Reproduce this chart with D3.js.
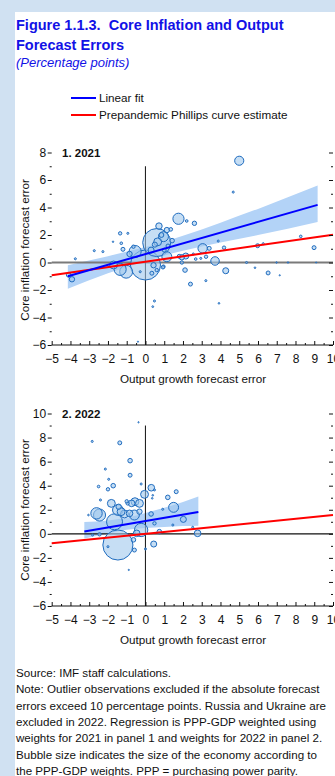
<!DOCTYPE html>
<html>
<head>
<meta charset="utf-8">
<script src="https://cdn.jsdelivr.net/npm/d3@7"></script>
<style>
  html, body { margin: 0; padding: 0; background: #d0e1f2; }
  svg { display: block; font-family: "Liberation Sans", Arial, Helvetica, sans-serif; }
</style>
</head>
<body>
<svg id="chart" width="335" height="776"></svg>
<script>
// ---- Axis ticks ----
const xTickValues = [-5, -4, -3, -2, -1, 0, 1, 2, 3, 4, 5, 6, 7, 8, 9, 10];
const xMinorTicks = [-4.5, -3.5, -2.5, -1.5, -0.5, 0.5, 1.5, 2.5, 3.5, 4.5, 5.5, 6.5, 7.5, 8.5, 9.5];
const yTicks2021 = [-6, -4, -2, 0, 2, 4, 6, 8];
const yMinor2021 = [-5, -3, -1, 1, 3, 5, 7];
const yTicks2022 = [-6, -4, -2, 0, 2, 4, 6, 8, 10];
const yMinor2022 = [-5, -3, -1, 1, 3, 5, 7, 9];

// ---- Panel 1: 2021 (output growth error, core inflation error, PPP-GDP weight) ----
const outputErr2021 = [5.0, 4.68, 1.76, 2.2, 2.61, 1.35, 0.72, 0.6, 0.0, 0.96, 1.42, 1.14, 0.65, 0.5, 0.85,
  -1.35, -0.94, -1.73, -1.29, -1.2, -0.64, -0.55, -0.85, -2.73, -2.27, -3.74, -4.1, -3.92, -1.35, -1.7,
  -1.03, -0.28, 0.43, 0.6, 0.34, 0.96, 3.88, 3.05, 3.4, 4.19, 5.98, 6.28, 8.28, 8.99, 1.14, 1.94, 2.15,
  2.68, 2.55, 2.95, 3.23, 3.71, 4.28, 2.11, 1.94, 0.93, 5.39, 5.84, 6.54, 6.99, 7.16, 7.6, 9.1, 2.4,
  3.22, 0.48, 0.39, 3.92, -0.4, 1.8, 1.2, 0.3, 1.0];
const coreInflErr2021 = [7.4, 5.12, 3.18, 3.02, 2.85, 2.41, 2.65, 1.45, -0.18, 1.88, 1.59, 2.36, 1.5, 1.3, 2.0,
  2.12, 2.12, 1.51, 1.4, 0.96, 1.15, 0.8, 0.62, 0.86, 0.79, 0.27, -0.9, -1.22, -0.5, -0.18,
  -0.67, -0.67, -0.2, -0.55, -0.78, -0.3, 1.56, 1.03, 1.03, 1.08, 1.22, 1.37, 1.9, 1.08, 0.42, 0.38, 0.47,
  0.25, 0.62, 0.3, 0.42, 0.11, -0.6, -0.55, 0.0, -0.35, 0.0, -0.38, -0.76, 0.0, -0.93, 0.0, 0.0, -1.57,
  -1.32, -2.8, -3.21, -2.97, -5.76, 0.45, 1.2, 0.9, 0.9];
const weight2021 = [1.6, 0.08, 2.4, 0.13, 0.37, 0.25, 0.8, 15.1, 17.4, 1.9, 0.4, 0.55, 1.2, 0.5, 0.45,
  0.22, 0.08, 0.04, 0.13, 0.3, 0.22, 2.8, 0.55, 0.08, 0.08, 0.08, 0.4, 0.55, 2.8, 1.2,
  3.2, 0.08, 0.55, 0.22, 0.3, 0.22, 0.08, 1.7, 0.3, 0.22, 0.3, 0.08, 0.13, 0.3, 1.9, 0.55, 0.7,
  0.13, 0.08, 0.08, 0.22, 1.4, 0.7, 0.4, 0.22, 0.22, 0.08, 0.05, 0.3, 0.04, 0.02, 0.04, 0.02, 0.3,
  0.08, 0.08, 0.06, 0.05, 0.02, 0.3, 0.3, 0.7, 0.3];

const fitX2021 = [-4.14, 9.18];
const fitY2021 = [-1.0, 4.19];
const bandX2021 = [-4.14, -2, 0, 1, 2, 4, 6, 9.18];
const bandLo2021 = [-1.9, -0.79, 0.11, 0.5, 0.85, 1.46, 2.0, 2.95];
const bandHi2021 = [-0.2, 0.46, 1.12, 1.51, 1.95, 2.9, 3.9, 5.6];
const phillipsX2021 = [-5, 10];
const phillipsY2021 = [-0.92, 2.02];

// ---- Panel 2: 2022 ----
const outputErr2022 = [-0.37, -2.84, -1.37, -0.82, -2.14, -0.82, -1.96, -2.5, -1.72, -2.0, -0.23, 0.31, -0.05,
  0.48, 1.19, 1.64, 0.36, -2.4, -1.82, -1.43, -0.95, -0.56, -0.74, -2.61, -1.47, -1.12, -0.32, 1.5, 2.02,
  -3.04, -1.47, -2.45, -1.65, -0.59, -0.32, -2.82, -2.0, -0.59, 0.0, 0.44, 0.3, 0.48, 0.74, -0.23, -0.47,
  -0.64, 2.52, 2.78, 1.46, -0.89, -2.45, 0.92, -1.0, 0.39, -0.85, -1.3];
const coreInflErr2022 = [9.27, 7.68, 7.56, 6.08, 5.38, 4.87, 4.53, 3.93, 4.0, 3.7, 4.14, 3.83, 3.28,
  3.65, 3.03, 3.5, 2.95, 2.81, 2.53, 2.25, 2.53, 2.67, 2.53, 1.7, 1.98, 1.65, 1.84, 2.2, 1.2,
  1.56, -0.93, 1.56, 1.0, 1.56, 2.53, -0.1, -1.07, -1.35, -1.26, -0.85, 1.65, 0.87, 0.18, 0.32, 0.04,
  -0.5, 0.54, 0.04, 0.73, -3.0, -0.04, 2.04, 2.7, 3.2, 1.7, 1.84];
const weight2022 = [0.03, 0.08, 0.3, 0.4, 0.08, 0.3, 0.08, 0.13, 0.4, 0.22, 0.08, 0.85, 1.2,
  0.08, 0.4, 0.3, 0.05, 0.08, 1.2, 0.55, 0.22, 1.2, 0.85, 2.5, 2.2, 1.2, 0.55, 1.9, 0.7,
  0.05, 17.4, 2.8, 4.9, 1.9, 1.2, 0.08, 0.08, 0.3, 0.08, 0.7, 0.4, 0.22, 0.4, 3.4, 0.85,
  0.4, 0.08, 0.85, 0.08, 0.03, 0.22, 0.08, 0.22, 0.05, 0.85, 1.2];

const fitX2022 = [-3.26, 2.82];
const fitY2022 = [0.2, 1.82];
const bandX2022 = [-3.26, -2, -1, 0, 1, 2, 2.82];
const bandLo2022 = [-0.38, 0.01, 0.33, 0.48, 0.57, 0.64, 0.68];
const bandHi2022 = [0.98, 1.11, 1.33, 1.72, 2.17, 2.64, 3.1];
const phillipsX2022 = [-5, 10];
const phillipsY2022 = [-0.79, 1.56];

// ---- Text ----
const titleLines = ["Figure 1.1.3.  Core Inflation and Output", "Forecast Errors"];
const subtitle = "(Percentage points)";
const legendLabels = ["Linear fit", "Prepandemic Phillips curve estimate"];
const panelTitles = ["1. 2021", "2. 2022"];
const xAxisTitle = "Output growth forecast error";
const yAxisTitle = "Core inflation forecast error";
const footnotes = [
  "Source: IMF staff calculations.",
  "Note: Outlier observations excluded if the absolute forecast",
  "errors exceed 10 percentage points. Russia and Ukraine are",
  "excluded in 2022. Regression is PPP-GDP weighted using",
  "weights for 2021 in panel 1 and weights for 2022 in panel 2.",
  "Bubble size indicates the size of the economy according to",
  "the PPP-GDP weights. PPP = purchasing power parity."
];

// ---- Drawing ----
const svg = d3.select("#chart");
const W = 335, H = 776;
const titleBlue = "#1212e6";
const fitBlue = "#0000ff";
const phillipsRed = "#ff0000";
const bandFill = "#b3d3f7";
const bubbleFill = "rgba(160, 200, 236, 0.6)";
const bubbleStroke = "#1f6cbf";

svg.append("rect").attr("x", 15).attr("y", 12).attr("width", W - 15).attr("height", H - 12).attr("fill", "#ffffff");

// Title block
svg.selectAll("text.title").data(titleLines).join("text")
  .attr("class", "title")
  .attr("x", 16).attr("y", (d, i) => 30 + i * 19.5)
  .attr("fill", titleBlue).attr("font-size", 14.5).attr("font-weight", "bold")
  .attr("xml:space", "preserve")
  .text(d => d);
svg.append("text").attr("x", 16).attr("y", 67)
  .attr("fill", titleBlue).attr("font-size", 13).attr("font-style", "italic")
  .text(subtitle);

// Legend
const legendColors = [fitBlue, phillipsRed];
const legend = svg.append("g");
legendLabels.forEach((lab, i) => {
  const ly = 98 + i * 17;
  legend.append("line").attr("x1", 71).attr("x2", 96).attr("y1", ly).attr("y2", ly)
    .attr("stroke", legendColors[i]).attr("stroke-width", 2);
  legend.append("text").attr("x", 99).attr("y", ly + 4.2).attr("font-size", 11.7).attr("fill", "#111")
    .text(lab);
});

const x = d3.scaleLinear().domain([-5, 10]).range([51.7, 333]);
const r = d3.scaleSqrt().domain([0, 18]).range([0, 15.3]);

function drawPanel(cfg) {
  const y = d3.scaleLinear().domain(cfg.yDomain).range(cfg.yRange);
  const g = svg.append("g");

  // confidence band
  const band = cfg.bandX.map((bx, i) => ({ x: bx, lo: cfg.bandLo[i], hi: cfg.bandHi[i] }));
  g.append("path").datum(band)
    .attr("fill", bandFill)
    .attr("d", d3.area().x(d => x(d.x)).y0(d => y(d.lo)).y1(d => y(d.hi)).curve(d3.curveMonotoneX));

  // zero lines
  g.append("line").attr("x1", x(-5)).attr("x2", x(10)).attr("y1", y(0)).attr("y2", y(0))
    .attr("stroke", cfg.zeroColor).attr("stroke-width", cfg.zeroWidth);
  g.append("line").attr("x1", x(0)).attr("x2", x(0)).attr("y1", y(cfg.yDomain[0])).attr("y2", y(cfg.vTop))
    .attr("stroke", "#222").attr("stroke-width", 1.1);

  // bubbles, largest first so small ones stay visible
  const pts = cfg.xs.map((v, i) => ({ x: v, y: cfg.ys[i], w: cfg.ws[i] }))
    .sort((a, b) => b.w - a.w);
  g.selectAll("circle.bubble").data(pts).join("circle")
    .attr("class", "bubble")
    .attr("cx", d => x(d.x)).attr("cy", d => y(d.y))
    .attr("r", d => Math.max(0.6, r(d.w)))
    .attr("fill", bubbleFill).attr("stroke", bubbleStroke).attr("stroke-width", 1);

  // fitted lines
  const line = d3.line().x(d => x(d[0])).y(d => y(d[1]));
  g.append("path").datum(cfg.phX.map((v, i) => [v, cfg.phY[i]]))
    .attr("d", line).attr("fill", "none").attr("stroke", phillipsRed).attr("stroke-width", 2);
  g.append("path").datum(cfg.fitX.map((v, i) => [v, cfg.fitY[i]]))
    .attr("d", line).attr("fill", "none").attr("stroke", fitBlue).attr("stroke-width", 2);

  // left axis
  const left = g.append("g").attr("transform", `translate(${x(-5)},0)`)
    .call(d3.axisLeft(y).tickValues(cfg.yTicks).tickSize(4).tickPadding(1.5));
  left.select(".domain").remove();
  left.selectAll("text").attr("font-size", 12).attr("font-family", null).attr("fill", "#111");
  left.selectAll("line").attr("stroke", "#111");
  const leftMinor = g.append("g").attr("transform", `translate(${x(-5)},0)`)
    .call(d3.axisLeft(y).tickValues(cfg.yMinor).tickSize(2).tickFormat(""));
  leftMinor.select(".domain").remove();
  leftMinor.selectAll("line").attr("stroke", "#111");

  // right axis (ticks only)
  const right = g.append("g").attr("transform", `translate(${x(10)},0)`)
    .call(d3.axisRight(y).tickValues(cfg.yTicks).tickSize(-4).tickFormat(""));
  right.select(".domain").remove();
  right.selectAll("line").attr("stroke", "#111");
  const rightMinor = g.append("g").attr("transform", `translate(${x(10)},0)`)
    .call(d3.axisRight(y).tickValues(cfg.yMinor).tickSize(-2).tickFormat(""));
  rightMinor.select(".domain").remove();
  rightMinor.selectAll("line").attr("stroke", "#111");

  // bottom axis
  const yb = y(cfg.yDomain[0]);
  const bottom = g.append("g").attr("transform", `translate(0,${yb})`)
    .call(d3.axisBottom(x).tickValues(xTickValues).tickSize(-4).tickPadding(9.5));
  bottom.select(".domain").remove();
  bottom.selectAll("text").attr("font-size", 12).attr("font-family", null).attr("fill", "#111");
  bottom.selectAll("line").attr("stroke", "#111");
  const bottomMinor = g.append("g").attr("transform", `translate(0,${yb})`)
    .call(d3.axisBottom(x).tickValues(xMinorTicks).tickSize(-2).tickFormat(""));
  bottomMinor.select(".domain").remove();
  bottomMinor.selectAll("line").attr("stroke", "#111");
  g.append("line").attr("x1", x(-5)).attr("x2", x(10)).attr("y1", yb).attr("y2", yb)
    .attr("stroke", "#111").attr("stroke-width", 1.2);

  // panel title and axis titles
  g.append("text").attr("x", 62).attr("y", y(cfg.yDomain[1]) + 4.2)
    .attr("font-size", 11.5).attr("font-weight", "bold").attr("fill", "#111").text(cfg.title);
  g.append("text").attr("x", 193).attr("y", yb + 37.5).attr("text-anchor", "middle")
    .attr("font-size", 11.7).attr("fill", "#111").text(xAxisTitle);
  g.append("text").attr("transform", `translate(29,${cfg.yTitleY}) rotate(-90)`)
    .attr("text-anchor", "middle").attr("font-size", 11.7).attr("fill", "#111").text(yAxisTitle);
}

drawPanel({
  yDomain: [-6, 8], yRange: [345, 152.5], vTop: 7,
  yTicks: yTicks2021, yMinor: yMinor2021,
  xs: outputErr2021, ys: coreInflErr2021, ws: weight2021,
  fitX: fitX2021, fitY: fitY2021, bandX: bandX2021, bandLo: bandLo2021, bandHi: bandHi2021,
  phX: phillipsX2021, phY: phillipsY2021,
  zeroColor: "#7a7a7a", zeroWidth: 2, title: panelTitles[0], yTitleY: 250
});
drawPanel({
  yDomain: [-6, 10], yRange: [606, 413.5], vTop: 9,
  yTicks: yTicks2022, yMinor: yMinor2022,
  xs: outputErr2022, ys: coreInflErr2022, ws: weight2022,
  fitX: fitX2022, fitY: fitY2022, bandX: bandX2022, bandLo: bandLo2022, bandHi: bandHi2022,
  phX: phillipsX2022, phY: phillipsY2022,
  zeroColor: "#111", zeroWidth: 1.2, title: panelTitles[1], yTitleY: 510
});

// Footnotes
svg.selectAll("text.note").data(footnotes).join("text")
  .attr("class", "note")
  .attr("x", 16).attr("y", (d, i) => 677 + i * 16.3)
  .attr("font-size", 11.6).attr("fill", "#111")
  .text(d => d);
</script>
</body>
</html>
